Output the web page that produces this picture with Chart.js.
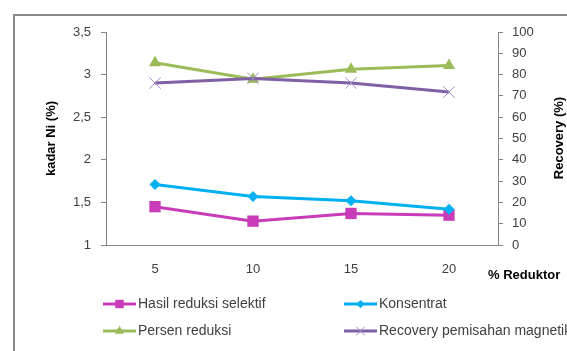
<!DOCTYPE html>
<html>
<head>
<meta charset="utf-8">
<script src="https://cdn.jsdelivr.net/npm/chart.js@4/dist/chart.umd.min.js"></script>
<style>
  html, body { margin: 0; padding: 0; background: #fff; }
  #wrap { width: 567px; height: 351px; }
</style>
</head>
<body>
<div id="wrap"><canvas id="canvas" width="567" height="351"></canvas></div>
<script>
// % reduktor categories
const reduktor = ['5', '10', '15', '20'];

// kadar Ni (%) - left axis
const hasilReduksi = [1.45, 1.28, 1.37, 1.35];
const konsentrat = [1.71, 1.57, 1.52, 1.42];

// Recovery (%) - right axis
const persenReduksi = [85.6, 77.8, 82.5, 84.3];
const recoveryMagnetik = [76.0, 78.2, 76.0, 71.8];

const FONT = "'Liberation Sans', Arial, sans-serif";
const TEXT = '#404040';

// frame, legend and the titles Chart.js can't place the same way
const decor = {
  id: 'decor',
  beforeDraw(chart) {
    const ctx = chart.ctx;
    ctx.save();
    ctx.strokeStyle = '#888888';
    ctx.lineWidth = 2;
    ctx.beginPath();
    ctx.moveTo(14, 351);
    ctx.lineTo(14, 15);
    ctx.lineTo(567, 15);
    ctx.stroke();
    ctx.restore();
  },
  afterDraw(chart) {
    const ctx = chart.ctx;
    ctx.save();
    ctx.fillStyle = '#000';
    ctx.font = 'bold 13px ' + FONT;
    ctx.textBaseline = 'middle';
    ctx.textAlign = 'left';
    ctx.fillText('% Reduktor', 488, 275);

    ctx.translate(559, 138);
    ctx.rotate(-Math.PI / 2);
    ctx.textAlign = 'center';
    ctx.fillText('Recovery (%)', 0, 0);
    ctx.restore();

    // legend, 2 x 2
    const spots = [[103, 304], [344, 304], [103, 331], [344, 331]];
    chart.data.datasets.forEach((ds, i) => {
      const [x, y] = spots[i];
      ctx.save();
      ctx.strokeStyle = ds.borderColor;
      ctx.lineWidth = 3;
      ctx.beginPath();
      ctx.moveTo(x, y);
      ctx.lineTo(x + 33, y);
      ctx.stroke();
      ctx.fillStyle = ds.pointBackgroundColor;
      ctx.strokeStyle = ds.pointBorderColor;
      ctx.lineWidth = ds.pointBorderWidth;
      Chart.helpers.drawPoint(ctx, {
        pointStyle: ds.pointStyle,
        radius: ds.pointRadius * 0.75,
        borderWidth: ds.pointBorderWidth,
        rotation: 0
      }, x + 16.5, y);
      ctx.fillStyle = TEXT;
      ctx.font = '14px ' + FONT;
      ctx.textBaseline = 'middle';
      ctx.textAlign = 'left';
      ctx.fillText(ds.label, x + 35, y);
      ctx.restore();
    });
  }
};

new Chart(document.getElementById('canvas'), {
  type: 'line',
  data: {
    labels: reduktor,
    datasets: [
      {
        label: 'Hasil reduksi selektif',
        data: hasilReduksi,
        yAxisID: 'y',
        borderColor: '#c83cb9',
        backgroundColor: '#c83cb9',
        pointBackgroundColor: '#c83cb9',
        pointBorderColor: '#c83cb9',
        pointBorderWidth: 0,
        pointStyle: 'rect',
        pointRadius: 8,
        borderWidth: 3,
        order: 3
      },
      {
        label: 'Konsentrat',
        data: konsentrat,
        yAxisID: 'y',
        borderColor: '#00b0f0',
        backgroundColor: '#00b0f0',
        pointBackgroundColor: '#00b0f0',
        pointBorderColor: '#00b0f0',
        pointBorderWidth: 0,
        pointStyle: 'rectRot',
        pointRadius: 5.5,
        borderWidth: 3,
        order: 2
      },
      {
        label: 'Persen reduksi',
        data: persenReduksi,
        yAxisID: 'y1',
        borderColor: '#9bbb59',
        backgroundColor: '#9bbb59',
        pointBackgroundColor: '#9bbb59',
        pointBorderColor: '#9bbb59',
        pointBorderWidth: 0,
        pointStyle: 'triangle',
        pointRadius: 7,
        borderWidth: 3,
        order: 1
      },
      {
        label: 'Recovery pemisahan magnetik',
        data: recoveryMagnetik,
        yAxisID: 'y1',
        borderColor: '#7f60a4',
        backgroundColor: '#7f60a4',
        pointBackgroundColor: '#a08cc6',
        pointBorderColor: '#a08cc6',
        pointBorderWidth: 1,
        pointStyle: 'crossRot',
        pointRadius: 8,
        borderWidth: 3,
        order: 0
      }
    ]
  },
  options: {
    responsive: false,
    animation: false,
    layout: { padding: { left: 0, right: 0, top: 32, bottom: 0 } },
    plugins: {
      legend: { display: false },
      tooltip: { enabled: false }
    },
    scales: {
      x: {
        offset: true,
        grid: { display: false, drawTicks: false },
        border: { display: true, color: '#868686', width: 1 },
        ticks: { color: TEXT, font: { family: FONT, size: 13 }, padding: 17 },
        afterFit(scale) { scale.height = 106; }
      },
      y: {
        position: 'left',
        min: 1,
        max: 3.5,
        grid: { drawOnChartArea: false, drawTicks: true, tickLength: 5, color: '#868686' },
        border: { display: true, color: '#868686', width: 1 },
        ticks: {
          stepSize: 0.5,
          color: TEXT,
          padding: 10,
          font: { family: FONT, size: 13 },
          callback: v => String(v).replace('.', ',')
        },
        title: {
          display: true,
          text: 'kadar Ni (%)',
          color: '#000',
          font: { family: FONT, size: 13, weight: 'bold' },
          padding: { top: 44, bottom: 0 }
        },
        afterFit(scale) { scale.width = 106; }
      },
      y1: {
        position: 'right',
        min: 0,
        max: 100,
        grid: { drawOnChartArea: false, drawTicks: true, tickLength: 5, color: '#868686' },
        border: { display: true, color: '#868686', width: 1 },
        ticks: {
          stepSize: 10,
          color: TEXT,
          padding: 9,
          font: { family: FONT, size: 13 }
        },
        afterFit(scale) { scale.width = 69; }
      }
    }
  },
  plugins: [decor]
});
</script>
</body>
</html>
